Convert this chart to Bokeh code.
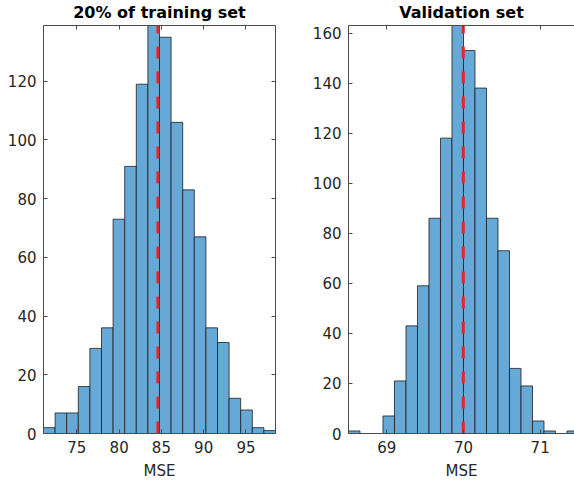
from bokeh.plotting import figure
from bokeh.layouts import row
from bokeh.models import Range1d, LinearAxis, FixedTicker, CustomLabelingPolicy
from bokeh.embed import file_html
from bokeh.resources import INLINE

# ---- data ----
train_title = "20% of training set"
train_edges = [71.05, 72.4225, 73.795, 75.1675, 76.54, 77.9125, 79.285, 80.6575,
               82.03, 83.4025, 84.775, 86.1475, 87.52, 88.8925, 90.265, 91.6375,
               93.01, 94.3825, 95.755, 97.1275, 98.5]
train_counts = [2, 7, 7, 16, 29, 36, 73, 91, 119, 139, 135, 106, 83, 67, 36, 31, 12, 8, 2, 1]
train_mean = 84.59
train_xticks = [75, 80, 85, 90, 95]
train_yticks = [0, 20, 40, 60, 80, 100, 120]

val_title = "Validation set"
val_edges = [68.5, 68.65, 68.8, 68.95, 69.1, 69.25, 69.4, 69.55, 69.7, 69.85, 70.0,
             70.15, 70.3, 70.45, 70.6, 70.75, 70.9, 71.05, 71.2, 71.35, 71.5]
val_counts = [1, 0, 0, 7, 21, 43, 59, 86, 118, 163, 153, 138, 86, 73, 26, 19, 5, 1, 0, 1]
val_mean = 69.997
val_xticks = [69, 70, 71]
val_yticks = [0, 20, 40, 60, 80, 100, 120, 140, 160]
val_xview_end = 71.448

xlabel = "MSE"

# ---- styles ----
AX = "#262626"
BOX = "#4a4a4a"
FONT = "DejaVu Sans"
BAR_FILL = "#67a9d6"
BAR_LINE = "#1e1e1e"
RED = "#e5262b"

HIDE_LABELS = CustomLabelingPolicy(code="""
    const n = indices.size
    for (let i = 0; i < n; i++) { indices.unset(i) }
    return indices
""")


def style_axis(ax, ticks, show_labels=True):
    ax.ticker = FixedTicker(ticks=ticks, minor_ticks=[])
    ax.major_tick_in = 4
    ax.major_tick_out = 0
    ax.minor_tick_in = 0
    ax.minor_tick_out = 0
    ax.axis_line_color = BOX
    ax.axis_line_width = 1
    ax.major_tick_line_color = BOX
    ax.major_tick_line_width = 1
    if show_labels:
        ax.major_label_text_font = FONT
        ax.major_label_text_font_size = "15px"
        ax.major_label_text_color = AX
        ax.major_label_standoff = 7
    else:
        ax.major_label_policy = HIDE_LABELS
        ax.major_label_text_font_size = "1px"
        ax.major_label_standoff = 0


def make(title, edges, counts, mean, xticks, yticks, xend, width, bl, br, right_axis, title_offset):
    top = max(counts)
    p = figure(width=width, height=483, output_backend="svg", toolbar_location=None,
               x_range=Range1d(edges[0], xend), y_range=Range1d(0, top),
               min_border_left=bl, min_border_right=br, min_border_top=23,
               min_border_bottom=50)
    p.title.text = title
    p.title.text_font = FONT
    p.title.text_font_size = "16px"
    p.title.text_font_style = "bold"
    p.title.text_color = "black"
    p.title.align = "center"
    p.title.standoff = 0
    p.title.offset = title_offset
    p.outline_line_color = None
    p.background_fill_color = "white"
    p.border_fill_color = "white"
    p.xgrid.visible = False
    p.ygrid.visible = False

    style_axis(p.xaxis[0], xticks)
    style_axis(p.yaxis[0], yticks)
    p.xaxis[0].axis_label = xlabel
    p.xaxis[0].axis_label_text_font = FONT
    p.xaxis[0].axis_label_text_font_size = "15px"
    p.xaxis[0].axis_label_text_font_style = "normal"
    p.xaxis[0].axis_label_text_color = AX
    p.xaxis[0].axis_label_standoff = 6

    above = LinearAxis()
    style_axis(above, xticks, show_labels=False)
    p.add_layout(above, "above")
    if right_axis:
        right = LinearAxis()
        style_axis(right, yticks, show_labels=False)
        p.add_layout(right, "right")

    p.quad(left=edges[:-1], right=edges[1:], bottom=0, top=counts,
           fill_color=BAR_FILL, line_color=BAR_LINE, line_width=0.8)
    p.line(x=[mean, mean], y=[0, top], line_color=RED, line_width=3,
           line_dash="12 13", line_dash_offset=0)
    return p


p1 = make(train_title, train_edges, train_counts, train_mean, train_xticks, train_yticks,
          train_edges[-1], 305, 43, 30, True, 0)
p2 = make(val_title, val_edges, val_counts, val_mean, val_xticks, val_yticks,
          val_xview_end, 269, 43, 0, False, 3)

layout = row(p1, p2)
open("out.html", "w").write(file_html(layout, INLINE))
